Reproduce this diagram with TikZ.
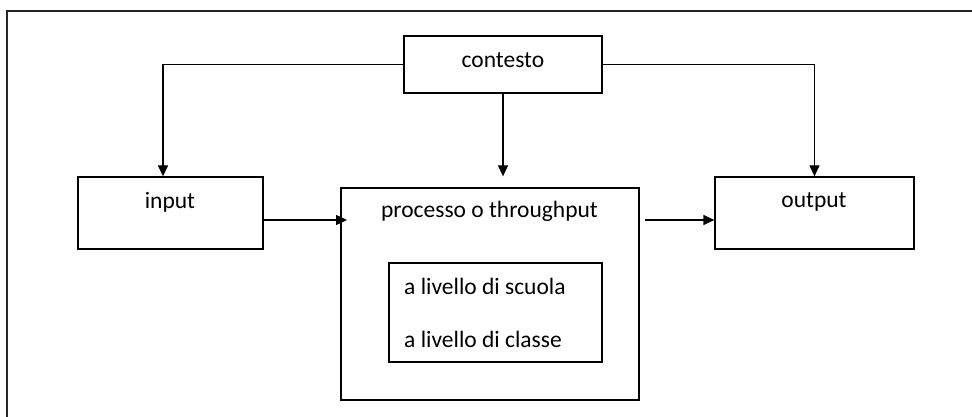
\documentclass[tikz,border=0pt]{standalone}
\usepackage{fontspec}
\setmainfont{Carlito}
\usetikzlibrary{arrows.meta}
\begin{document}
\begin{tikzpicture}[x=1pt,y=-1pt,
  box/.style={draw,line width=1.3pt,minimum width=#1,inner sep=0pt},
  lbl/.style={font=\fontsize{23.5}{28}\selectfont,inner sep=0pt},
  arr/.style={line width=1.3pt,-{Triangle[length=11pt,width=10pt]}},
  ln/.style={line width=1.3pt}]
\useasboundingbox (0,0) rectangle (972,417);
\clip (0,0) rectangle (972,417);
\draw[line width=2.6pt,black!85] (7,11) rectangle (990,440);
% boxes
\node[box=198pt,minimum height=57pt] (contesto) at (503,64.5) {};
\node[box=185pt,minimum height=72pt] (input) at (170.5,213) {};
\node[box=199pt,minimum height=72pt] (output) at (814.5,213) {};
\node[box=298pt,minimum height=212pt] (processo) at (490,294) {};
\node[box=213pt,minimum height=99pt] (inner) at (495.5,312.5) {};
% texts
\node[lbl] (tcont) at (503,60) {contesto};
\node[lbl] (tin) at (170,202) {input};
\node[lbl] (tout) at (814,202) {output};
\node[lbl] (tproc) at (489.5,211) {processo o throughput};
\node[lbl,anchor=west] (tsc) at (404,286) {a livello di scuola};
\node[lbl,anchor=west] (tcl) at (404,339) {a livello di classe};
% connectors
\coordinate (inTop) at ([xshift=-7.5pt]input.north);
\coordinate (inOut) at (263,220);
\coordinate (procIn) at (347,220);
\coordinate (procOut) at (645,220);
\coordinate (outIn) at (output.west |- procOut);
\draw[arr] (contesto.west) -| (inTop);
\draw[arr] (contesto.east) -| (output.north);
\draw[arr] (contesto.south) -- (contesto.south |- input.north);
\draw[arr] (inOut) -- (procIn);
\draw[arr] (procOut) -- (outIn);
\end{tikzpicture}
\end{document}
